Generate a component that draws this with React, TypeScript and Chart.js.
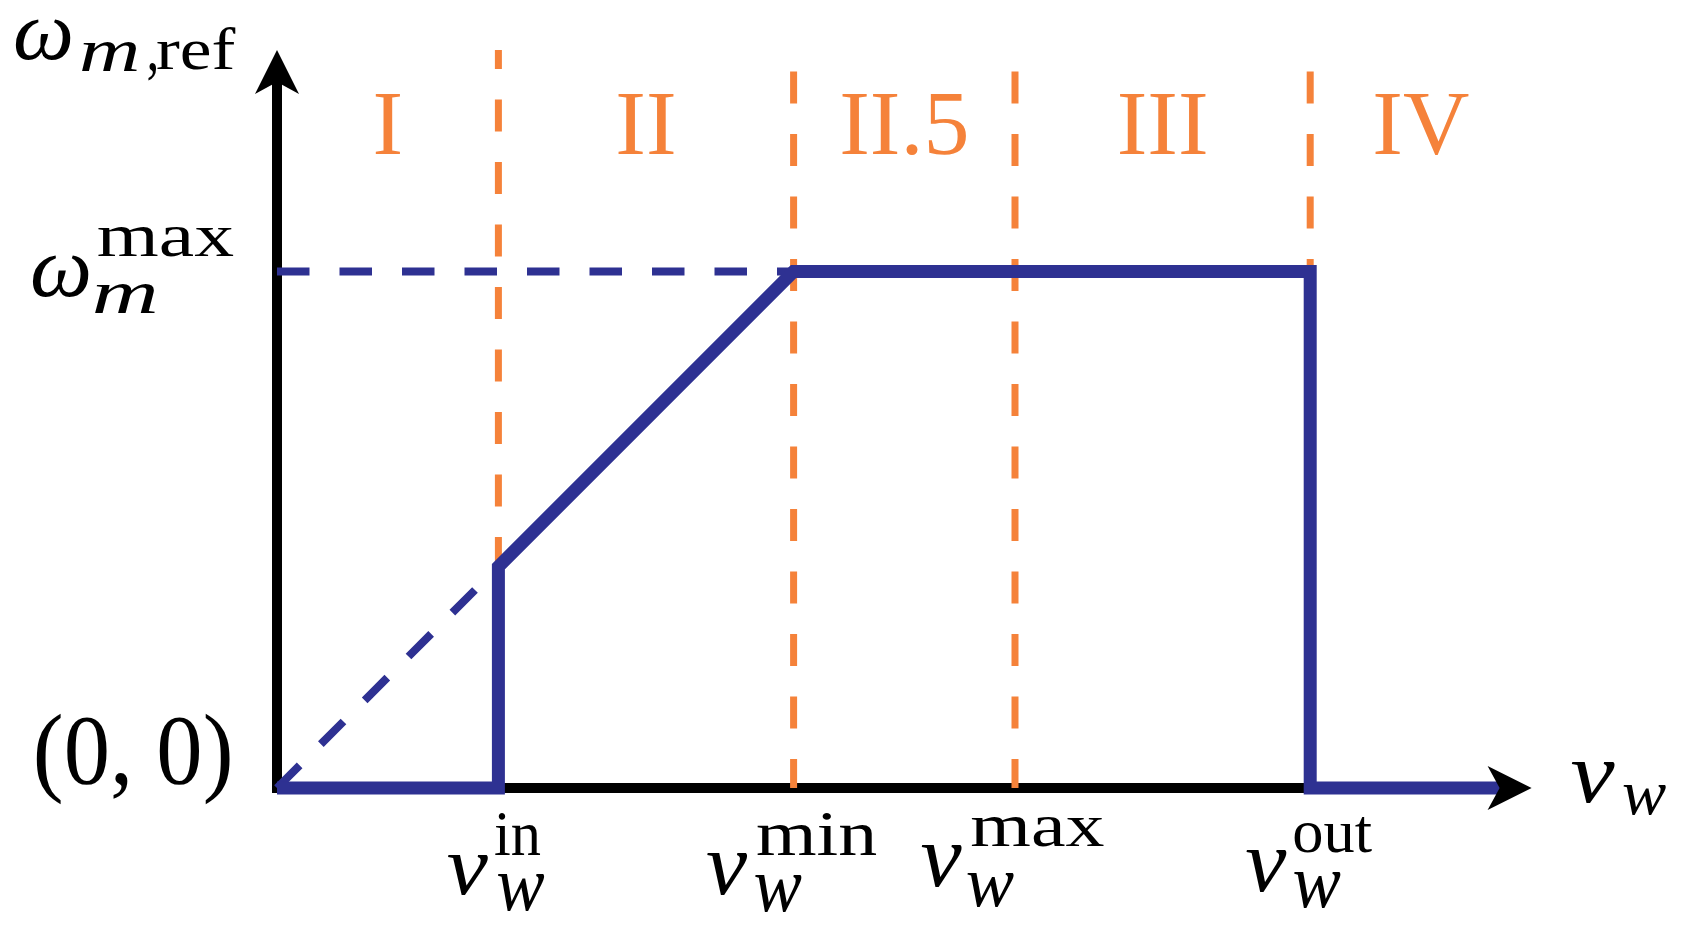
import React, { useEffect, useRef } from "react";
import { Chart, registerables } from "chart.js";

Chart.register(...registerables);

// ---------- data ----------
const speedValues = [3, 7, 10, 14]; // v_w^in, v_w^min, v_w^max, v_w^out
const speedSupLabels = ["in", "min", "max", "out"];
const omegaMax = 7;
const curveSpeed = [0, 3, 3, 7, 14, 14, 16.6];
const curveOmega = [0, 0, 3, 7, 7, 0, 0];
const extrapSpeed = [0, 3];
const extrapOmega = [0, 3];
const regionLabels = ["I", "II", "II.5", "III", "IV"];
const regionEdges = [0, 3, 7, 10, 14, 17];
const axisXEnd = 17;
const axisYEnd = 10;

// ---------- style / layout ----------
const W = 1686;
const H = 930;
const ORIGIN_X = 277;
const ORIGIN_Y = 788;
const PPU = 73.8;
const BLUE = "#2E3192";
const ORANGE = "#F5823A";
const SERIF = "'Liberation Serif', 'Times New Roman', serif";
const orangeOffsets = [13, 41, 41, 41];

type Box = [number, number, number, number];
const tickBoxes: { v: Box; sup: Box; w: Box }[] = [
  { v: [-50.5, 67, -9.5, 107], sup: [-3.5, 25, 42.5, 67], w: [-0.5, 86, 46.5, 123] },
  { v: [-86.5, 65, -45.5, 107], sup: [-36.5, 25, 83.5, 67], w: [-38.5, 87, 8.5, 124] },
  { v: [-93.5, 57, -52.5, 99], sup: [-43.5, 29, 89.5, 59], w: [-47.5, 85, -0.5, 119] },
  { v: [-64, 62, -23, 104], sup: [-16, 29, 62, 65], w: [-16, 84, 31, 120] },
];

function drawFit(ctx: CanvasRenderingContext2D, text: string, font: string, box: Box, ax: number, ay: number, color: string) {
  const [x0, y0, x1, y1] = [box[0] + ax, box[1] + ay, box[2] + ax, box[3] + ay];
  ctx.save();
  ctx.font = font;
  ctx.fillStyle = color;
  ctx.textAlign = "left";
  ctx.textBaseline = "alphabetic";
  const m = ctx.measureText(text);
  const inkL = -m.actualBoundingBoxLeft;
  const inkR = m.actualBoundingBoxRight;
  const inkT = -m.actualBoundingBoxAscent;
  const inkB = m.actualBoundingBoxDescent;
  const sx = (x1 - x0) / (inkR - inkL);
  const sy = (y1 - y0) / (inkB - inkT);
  ctx.translate(x0 - inkL * sx, y0 - inkT * sy);
  ctx.scale(sx, sy);
  ctx.fillText(text, 0, 0);
  ctx.restore();
}

const IT = `italic 88px ${SERIF}`;
const RM = `64px ${SERIF}`;

const axesPlugin = {
  id: "axesArrows",
  beforeDatasetsDraw(chart: any) {
    const ctx = chart.ctx as CanvasRenderingContext2D;
    const xs = chart.scales.x;
    const ys = chart.scales.y;
    const ox = xs.getPixelForValue(0);
    const oy = ys.getPixelForValue(0);
    const tx = xs.getPixelForValue(axisXEnd);
    const ty = ys.getPixelForValue(axisYEnd);
    ctx.save();
    ctx.strokeStyle = "#000";
    ctx.lineWidth = 10;
    ctx.lineCap = "butt";
    ctx.beginPath();
    ctx.moveTo(ox, oy + 5);
    ctx.lineTo(ox, ty + 31);
    ctx.stroke();
    ctx.beginPath();
    ctx.moveTo(ox - 5, oy);
    ctx.lineTo(tx - 31, oy);
    ctx.stroke();
    ctx.restore();
  },
  afterDatasetsDraw(chart: any) {
    const ctx = chart.ctx as CanvasRenderingContext2D;
    const xs = chart.scales.x;
    const ys = chart.scales.y;
    const ox = xs.getPixelForValue(0);
    const oy = ys.getPixelForValue(0);
    const tx = xs.getPixelForValue(axisXEnd);
    const ty = ys.getPixelForValue(axisYEnd);
    ctx.save();
    ctx.fillStyle = "#000";
    // y arrow
    ctx.beginPath();
    ctx.moveTo(ox, ty);
    ctx.lineTo(ox - 22, ty + 44);
    ctx.lineTo(ox, ty + 32);
    ctx.lineTo(ox + 22, ty + 44);
    ctx.closePath();
    ctx.fill();
    // x arrow
    ctx.beginPath();
    ctx.moveTo(tx, oy);
    ctx.lineTo(tx - 44, oy - 22);
    ctx.lineTo(tx - 32, oy);
    ctx.lineTo(tx - 44, oy + 22);
    ctx.closePath();
    ctx.fill();
    ctx.restore();
  },
  afterDraw(chart: any) {
    const ctx = chart.ctx as CanvasRenderingContext2D;
    const xs = chart.scales.x;
    const ys = chart.scales.y;
    const ox = xs.getPixelForValue(0);
    const oy = ys.getPixelForValue(0);
    const ty = ys.getPixelForValue(axisYEnd);
    const tx = xs.getPixelForValue(axisXEnd);
    const my = ys.getPixelForValue(omegaMax);

    // region labels
    ctx.save();
    ctx.fillStyle = ORANGE;
    ctx.font = `92px ${SERIF}`;
    ctx.textAlign = "center";
    ctx.textBaseline = "alphabetic";
    regionLabels.forEach((lab, i) => {
      const cx = (xs.getPixelForValue(regionEdges[i]) + xs.getPixelForValue(regionEdges[i + 1])) / 2;
      ctx.fillText(lab, cx, ty + 104);
    });
    ctx.restore();

    // y axis title  ω_{m,ref}
    drawFit(ctx, "ω", IT, [-262, -31, -206, 10], ox, ty, "#000");
    drawFit(ctx, "m", IT, [-195, -9, -140, 21], ox, ty, "#000");
    drawFit(ctx, ",", RM, [-129, 13, -121, 31], ox, ty, "#000");
    drawFit(ctx, "ref", RM, [-120, -22, -41, 20], ox, ty, "#000");

    // ω_m^max
    drawFit(ctx, "ω", IT, [-245, -16, -188, 26], ox, my, "#000");
    drawFit(ctx, "m", IT, [-182, 12, -122, 42], ox, my, "#000");
    drawFit(ctx, "max", RM, [-179, -44, -43, -14], ox, my, "#000");

    // (0,0)
    drawFit(ctx, "(0, 0)", `88px ${SERIF}`, [-241, -75, -47, 17], ox, oy, "#000");

    // x axis title v_w
    drawFit(ctx, "v", IT, [40, -26, 84, 15], tx, oy, "#000");
    drawFit(ctx, "w", IT, [92, -3, 135, 27], tx, oy, "#000");

    // tick labels
    speedValues.forEach((v, i) => {
      const ax = xs.getPixelForValue(v);
      const b = tickBoxes[i];
      drawFit(ctx, "v", IT, b.v, ax, oy, "#000");
      drawFit(ctx, speedSupLabels[i], RM, b.sup, ax, oy, "#000");
      drawFit(ctx, "w", IT, b.w, ax, oy, "#000");
    });
  },
};

export default function App() {
  const ref = useRef<HTMLCanvasElement | null>(null);
  useEffect(() => {
    if (!ref.current) return;
    const line = (pts: { x: number; y: number }[], color: string, width: number, dash: number[], offset: number, order: number) => ({
      data: pts,
      showLine: true,
      borderColor: color,
      backgroundColor: color,
      borderWidth: width,
      borderDash: dash,
      borderDashOffset: offset,
      borderJoinStyle: "miter",
      borderCapStyle: "butt",
      pointRadius: 0,
      tension: 0,
      fill: false,
      order,
    });
    const datasets: any[] = [];
    speedValues.forEach((v, i) => {
      datasets.push(line([{ x: v, y: axisYEnd }, { x: v, y: 0 }], ORANGE, 7, [32, 30.5], orangeOffsets[i], 4));
    });
    datasets.push(line(extrapSpeed.map((x, i) => ({ x, y: extrapOmega[i] })), BLUE, 8, [32, 30], 0, 3));
    datasets.push(line([{ x: 0, y: omegaMax }, { x: speedValues[1], y: omegaMax }], BLUE, 8, [32.5, 30], 0, 3));
    datasets.push(line(curveSpeed.map((x, i) => ({ x, y: curveOmega[i] })), BLUE, 13, [], 0, 1));

    const chart = new Chart(ref.current, {
      type: "scatter",
      data: { datasets },
      options: {
        animation: false,
        responsive: false,
        devicePixelRatio: 1,
        events: [],
        layout: { padding: 0 },
        plugins: { legend: { display: false }, tooltip: { enabled: false } },
        scales: {
          x: { type: "linear", display: false, min: -ORIGIN_X / PPU, max: (W - ORIGIN_X) / PPU },
          y: { type: "linear", display: false, min: -(H - ORIGIN_Y) / PPU, max: ORIGIN_Y / PPU },
        },
      },
      plugins: [axesPlugin],
    } as any);
    return () => chart.destroy();
  }, []);
  return (
    <div style={{ position: "absolute", left: 0, top: 0, width: W, height: H, background: "#fff" }}>
      <canvas ref={ref} width={W} height={H} style={{ display: "block", width: W, height: H }} />
    </div>
  );
}
